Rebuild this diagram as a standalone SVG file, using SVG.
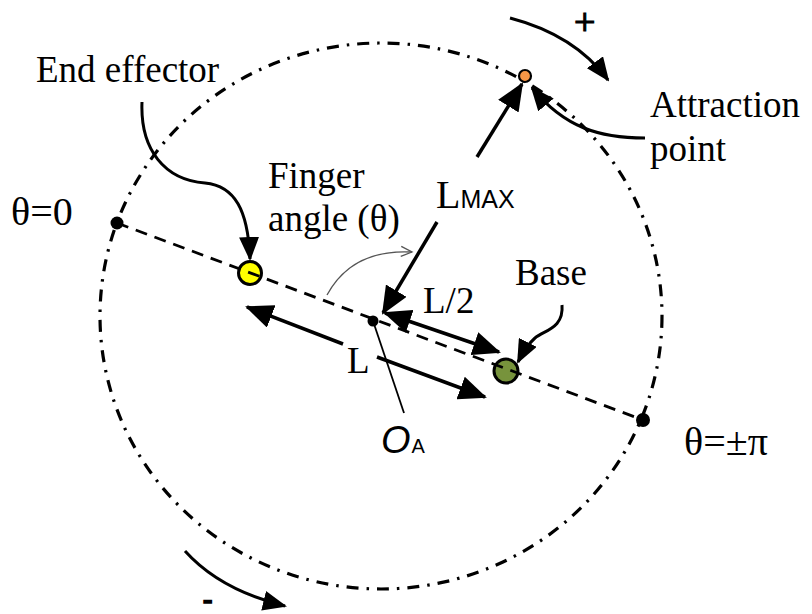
<svg xmlns="http://www.w3.org/2000/svg" width="812" height="614" viewBox="0 0 812 614">
<style>
.t{font-family:"Liberation Serif","Times New Roman",serif;fill:#000}
.s{font-family:"Liberation Sans",Arial,sans-serif;fill:#000}
.ln{fill:none;stroke:#000;stroke-width:3.5}
.cv{fill:none;stroke:#000;stroke-width:3}
</style>
<defs>
<marker id="ah" markerWidth="28" markerHeight="24" refX="26" refY="12" orient="auto-start-reverse" markerUnits="userSpaceOnUse"><path d="M0,0 L28,12 L0,24 z" fill="#000"/></marker>
<marker id="ahs" markerWidth="24" markerHeight="20" refX="22" refY="10" orient="auto" markerUnits="userSpaceOnUse"><path d="M0,0 L24,10 L0,20 z" fill="#000"/></marker>
<marker id="open" markerWidth="14" markerHeight="12" refX="12" refY="6" orient="auto" markerUnits="userSpaceOnUse"><path d="M1,1 L12,6 L1,11" fill="none" stroke="#555" stroke-width="1.3"/></marker>
</defs>
<rect width="812" height="614" fill="#fff"/>

<g id="orbit">
<ellipse cx="381" cy="316" rx="281" ry="273" fill="none" stroke="#000" stroke-width="3.2" stroke-dasharray="12 8 2.5 8"/>
</g>

<g id="theta0">
<circle cx="117" cy="223" r="6.5" fill="#000"/>
<text class="t" x="11" y="225" font-size="40">θ=0</text>
</g>
<g id="thetaPi">
<circle cx="643" cy="420" r="7" fill="#000"/>
<text class="t" x="684" y="455" font-size="40">θ=±π</text>
</g>

<g id="end-effector">
<circle cx="250" cy="273" r="11.5" fill="#FFFF00" stroke="#000" stroke-width="3"/>
<text class="t" x="36" y="82" font-size="37">End effector</text>
</g>

<g id="base">
<circle cx="506" cy="371" r="12" fill="#77933C" stroke="#000" stroke-width="3"/>
<text class="t" x="515" y="285" font-size="37">Base</text>
</g>

<g id="oa">
<circle cx="373" cy="321" r="5.5" fill="#000"/>
<text class="s" x="381" y="453" font-size="38" font-style="italic">O<tspan font-size="20" font-style="normal" dx="1">A</tspan></text>
</g>

<g id="attraction">
<circle cx="525" cy="76" r="6" fill="#F79646" stroke="#000" stroke-width="2.2"/>
<text class="t" x="650" y="117" font-size="37">Attraction</text>
<text class="t" x="650" y="161" font-size="37">point</text>
</g>

<g id="labels">
<text class="t" x="268" y="188" font-size="37">Finger</text>
<text class="t" x="268" y="231" font-size="37">angle (θ)</text>
<text class="t" x="436" y="208" font-size="40">L<tspan class="s" font-size="25">MAX</tspan></text>
<text class="t" x="423" y="313" font-size="37">L/2</text>
<text class="t" x="347" y="373" font-size="37">L</text>
<text class="t" x="574" y="35" font-size="38" stroke="#000" stroke-width="1.2">+</text>
<text class="t" x="203" y="608" font-size="28" font-weight="bold" stroke="#000" stroke-width="1.6">-</text>
</g>

<g id="connectors">
<line x1="117" y1="223" x2="643" y2="420" stroke="#000" stroke-width="2.8" stroke-dasharray="12 8"/>
<line class="ln" x1="437" y1="222" x2="383" y2="313" marker-end="url(#ah)"/>
<line class="ln" x1="477" y1="157" x2="522" y2="84" marker-end="url(#ah)"/>
<line class="ln" x1="385" y1="313" x2="499" y2="352" marker-start="url(#ah)" marker-end="url(#ah)"/>
<line class="ln" x1="247" y1="307" x2="343" y2="344" marker-start="url(#ah)"/>
<line class="ln" x1="377" y1="357" x2="485" y2="397" marker-end="url(#ah)"/>
<path class="cv" d="M645,138 C600,138 565,128 532,88" marker-end="url(#ahs)"/>
<path class="cv" d="M142,102 C140,150 165,180 205,183 C235,186 248,210 250,259" marker-end="url(#ahs)"/>
<path class="cv" d="M562,305 C564,328 545,330 535,338 C527,345 523,352 518,362" marker-end="url(#ahs)"/>
<path class="cv" d="M510,18 Q575,35 608,80" marker-end="url(#ahs)"/>
<path class="cv" d="M185,551 Q220,590 285,606" marker-end="url(#ahs)"/>
<path d="M327,295 C345,262 375,250 412,252" fill="none" stroke="#555" stroke-width="1.3" marker-end="url(#open)"/>
<line x1="373" y1="321" x2="404" y2="413" stroke="#000" stroke-width="1.8"/>
</g>
</svg>
